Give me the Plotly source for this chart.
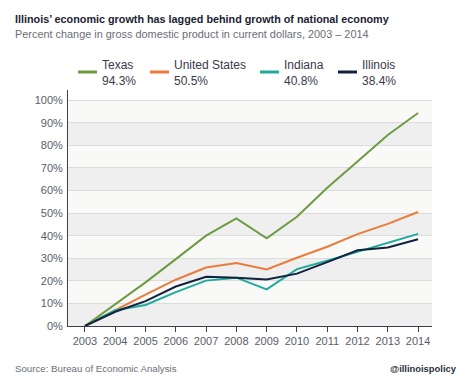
import plotly.graph_objects as go

years = list(range(2003, 2015))
texas = [0, 9.8, 19.3, 29.6, 40.0, 47.6, 38.8, 48.4, 61.2, 72.8, 84.6, 94.3]
us = [0, 7.0, 13.9, 20.5, 25.9, 27.9, 25.0, 30.2, 35.1, 40.7, 45.2, 50.5]
indiana = [0, 7.0, 9.3, 15.0, 20.1, 21.4, 16.2, 25.2, 28.9, 32.9, 36.9, 40.8]
illinois = [0, 6.3, 11.0, 17.5, 21.8, 21.4, 20.6, 23.2, 28.3, 33.5, 34.8, 38.4]
series_names = ["Texas", "United States", "Indiana", "Illinois"]
series_totals = ["94.3%", "50.5%", "40.8%", "38.4%"]
colors = ["#6e9b41", "#ea7b3a", "#1fab9c", "#13223f"]
y_ticks = list(range(0, 101, 10))
y_labels = [f"{v}%" for v in y_ticks]

FONT = "Liberation Sans, Arial, sans-serif"
fig = go.Figure()

for name, vals, c in zip(series_names, [texas, us, indiana, illinois], colors):
    fig.add_trace(go.Scatter(x=years, y=vals, mode="lines", name=name,
                             line=dict(color=c, width=2), showlegend=False))

shapes = []
for i in range(10):
    shapes.append(dict(type="rect", xref="paper", yref="y", x0=0, x1=1,
                       y0=i * 10, y1=i * 10 + 10, layer="below", line_width=0,
                       fillcolor="#efefef" if i % 2 == 0 else "#f9f9f8"))

# plot area in page pixels: left 68, right 432, top 90, bottom 326
PL, PW, PB, PH = 68, 364, 326, 236
def px(x):
    return (x - PL) / PW
def py(y):
    return (PB - y) / PH

annotations = []
for k, (name, tot, c) in enumerate(zip(series_names, series_totals, colors)):
    x0 = 78 + [0, 72, 182, 260][k]
    shapes.append(dict(type="line", xref="paper", yref="paper",
                       x0=px(x0), x1=px(x0 + 19), y0=py(72), y1=py(72),
                       line=dict(color=c, width=3)))
    annotations.append(dict(xref="paper", yref="paper", x=px(x0 + 22),
                            y=py(73), xanchor="left", yanchor="middle",
                            text=f"{name}<br>{tot}", showarrow=False, align="left",
                            font=dict(family=FONT, size=12, color="#3a3a4a")))

annotations += [
    dict(xref="paper", yref="paper", x=px(13), y=py(19),
         xanchor="left", yanchor="middle", showarrow=False,
         text="<b>Illinois’ economic growth has lagged behind growth of national economy</b>",
         font=dict(family=FONT, size=10.8, color="#1c2233")),
    dict(xref="paper", yref="paper", x=px(13), y=py(34),
         xanchor="left", yanchor="middle", showarrow=False,
         text="Percent change in gross domestic product in current dollars, 2003 – 2014",
         font=dict(family=FONT, size=10.9, color="#6b6e75")),
    dict(xref="paper", yref="paper", x=px(13), y=py(368),
         xanchor="left", yanchor="middle", showarrow=False,
         text="Source: Bureau of Economic Analysis",
         font=dict(family=FONT, size=9.7, color="#6b6e75")),
    dict(xref="paper", yref="paper", x=px(459), y=py(368),
         xanchor="right", yanchor="middle", showarrow=False,
         text="<b>@illinoispolicy</b>",
         font=dict(family=FONT, size=9.4, color="#2a2f3f")),
]

# page body has an 8px margin, so the figure is offset by 8px
fig.update_layout(
    width=466, height=378,
    margin=dict(l=60, r=42, t=82, b=60),
    paper_bgcolor="white", plot_bgcolor="white",
    shapes=shapes, annotations=annotations,
    font=dict(family=FONT, size=11, color="#5a5d66"),
    xaxis=dict(range=[2002.44, 2014.46], tickvals=years, ticktext=[str(y) for y in years],
               showgrid=False, showline=True, linecolor="#3c4150", linewidth=1,
               ticks="outside", ticklen=5, tickcolor="#3c4150", zeroline=False,
               tickfont=dict(size=11, color="#5a5d66")),
    yaxis=dict(range=[0, 104.5], tickvals=y_ticks, ticktext=y_labels,
               showgrid=True, gridcolor="#dcdcdc", gridwidth=1,
               showline=True, linecolor="#3c4150", linewidth=1, zeroline=False,
               ticks="", ticklabelstandoff=2,
               tickfont=dict(size=11, color="#5a5d66")),
)

fig.write_html("out.html")
